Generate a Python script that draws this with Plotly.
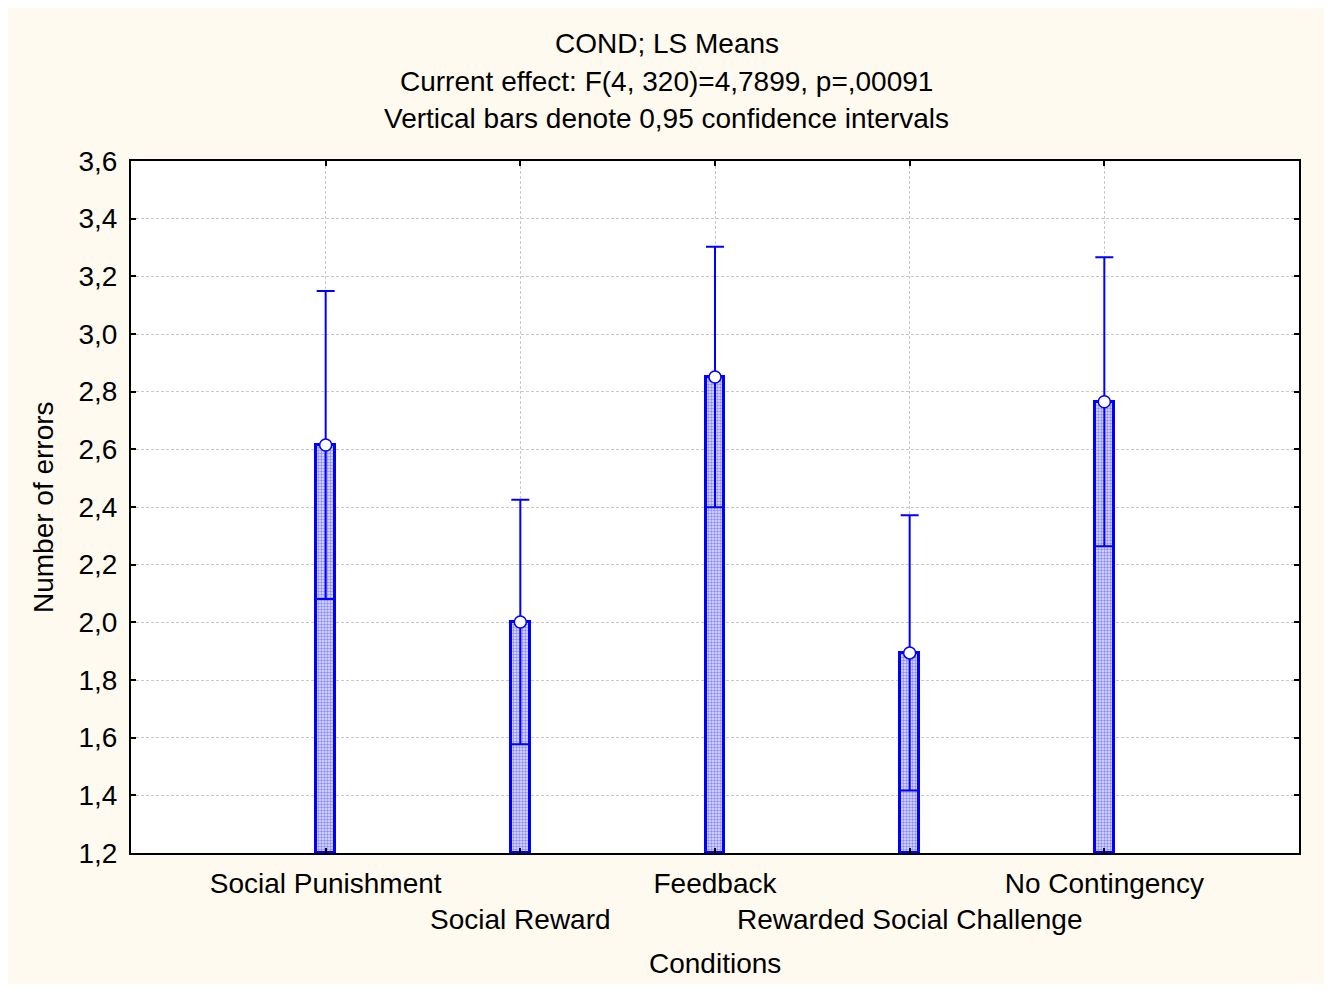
import plotly.graph_objects as go

categories = ["Social Punishment", "Social Reward", "Feedback", "Rewarded Social Challenge", "No Contingency"]
means = [2.615, 2.001, 2.851, 1.894, 2.765]
ci_half = [0.534, 0.424, 0.452, 0.477, 0.501]
tick_labels = ["Social Punishment", "<br>Social Reward", "Feedback", "<br>Rewarded Social Challenge", "No Contingency"]
y_ticks = [1.2, 1.4, 1.6, 1.8, 2.0, 2.2, 2.4, 2.6, 2.8, 3.0, 3.2, 3.4, 3.6]
y_min, y_max = 1.2, 3.6

xpos = list(range(len(categories)))
FONT = "Liberation Sans, Arial, sans-serif"
FS = 28
BLUE = "#0000ff"

fig = go.Figure()
fig.add_trace(go.Bar(
    x=xpos, y=[m - y_min for m in means], base=y_min, width=0.095,
    marker=dict(color="#b0b0ff", line=dict(color=BLUE, width=3),
                pattern=dict(shape=".", fgcolor="#3030ff", bgcolor="#e4e4ff", size=3, solidity=0.5)),
    showlegend=False, hoverinfo="skip"))
fig.add_trace(go.Scatter(
    x=xpos, y=means, mode="markers",
    marker=dict(symbol="circle", size=12, color="#ffffff", line=dict(color=BLUE, width=1.5)),
    error_y=dict(type="data", array=ci_half, visible=True, color=BLUE, thickness=2, width=9),
    showlegend=False))

axis_common = dict(showline=True, linecolor="#000000", linewidth=2, mirror="ticks",
                   ticks="inside", ticklen=5, tickcolor="#000000", tickwidth=1.5,
                   showgrid=True, gridcolor="#c8c8c8", gridwidth=1, griddash="3px,2px",
                   zeroline=False, tickfont=dict(family=FONT, size=FS, color="#000000"))

fig.update_xaxes(range=[-1, 5], tickvals=xpos, ticktext=tick_labels, tickangle=0,
                 ticklabelstandoff=4, **axis_common)
fig.update_yaxes(range=[y_min, y_max], tickvals=y_ticks, tickformat=".1f",
                 ticklabelstandoff=6, **axis_common)

title_lines = ["COND; LS Means",
               "Current effect: F(4, 320)=4,7899, p=,00091",
               "Vertical bars denote 0,95 confidence intervals"]
title_y = [1.1705, 1.1156, 1.0607]
annotations = [dict(text=t, xref="paper", yref="paper", x=0.4589, y=yy, xanchor="center",
                    yanchor="middle", showarrow=False, font=dict(family=FONT, size=FS, color="#000000"))
               for t, yy in zip(title_lines, title_y)]
annotations.append(dict(text="Conditions", xref="paper", yref="paper", x=0.5, y=-0.159,
                        xanchor="center", yanchor="middle", showarrow=False,
                        font=dict(family=FONT, size=FS, color="#000000")))
annotations.append(dict(text="Number of errors", xref="paper", yref="paper", x=-0.0753, y=0.5,
                        xanchor="center", yanchor="middle", textangle=-90, showarrow=False,
                        font=dict(family=FONT, size=FS, color="#000000")))

fig.update_layout(width=1316, height=976, margin=dict(l=123, r=25, t=153, b=131),
                  paper_bgcolor="#fffaef", plot_bgcolor="#ffffff", separators=", ",
                  font=dict(family=FONT, size=FS, color="#000000"),
                  annotations=annotations, bargap=0)

fig.write_html("out.html")
